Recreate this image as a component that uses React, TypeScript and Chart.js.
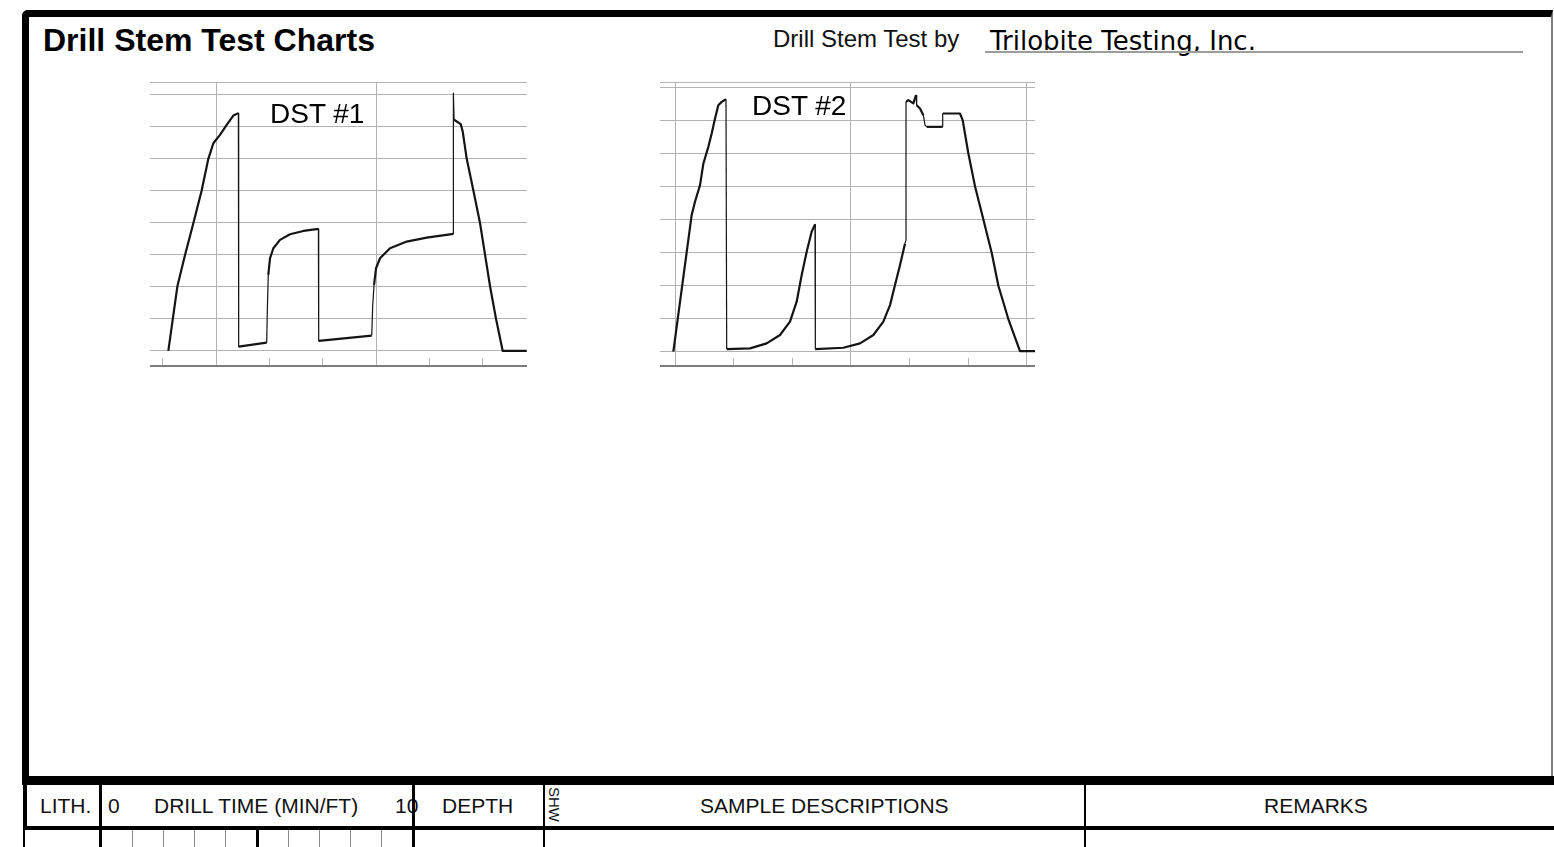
import React, { useEffect, useRef } from 'react';
import { Chart, registerables } from 'chart.js';

Chart.register(...registerables);

// ---- DST #1 (time in hours, pressure in psi) ----
const dst1Hours = [2.106, 2.275, 2.419, 2.575, 2.731, 2.856, 2.95, 3.075, 3.2, 3.325, 3.419, 3.425, 3.95, 3.963, 3.98, 4.013, 4.075, 4.2, 4.388, 4.638, 4.919, 4.925, 5.919, 5.938, 5.963, 6.0, 6.075, 6.263, 6.575, 6.95, 7.45, 7.45, 7.463, 7.588, 7.625, 7.7, 7.825, 7.95, 8.044, 8.138, 8.25, 8.375, 8.825];
const dst1Psi = [0, 503, 750, 997, 1253, 1500, 1622, 1687, 1766, 1838, 1857, 34, 65, 333, 594, 724, 802, 867, 911, 937, 953, 78, 120, 359, 516, 646, 724, 802, 854, 885, 914, 2013, 1805, 1771, 1713, 1500, 1253, 997, 750, 503, 250, 0, 0];
const dst1XTicks = [2, 3, 4, 5, 6, 7, 8];
const dst1XMajor = [3, 6];
const dst1YTicks = [0, 250, 500, 750, 1000, 1250, 1500, 1750, 2000, 2100];

// ---- DST #2 ----
const dst2Hours = [2.972, 3.284, 3.341, 3.427, 3.484, 3.569, 3.626, 3.683, 3.739, 3.796, 3.87, 3.882, 4.28, 4.564, 4.792, 4.962, 5.076, 5.162, 5.247, 5.332, 5.389, 5.395, 5.873, 6.157, 6.385, 6.555, 6.669, 6.754, 6.84, 6.925, 6.942, 6.942, 6.982, 7.067, 7.113, 7.124, 7.181, 7.238, 7.266, 7.295, 7.565, 7.568, 7.863, 7.909, 8.006, 8.119, 8.262, 8.404, 8.518, 8.688, 8.887, 9.143];
const dst2Psi = [0, 1032, 1133, 1259, 1422, 1548, 1649, 1762, 1863, 1888, 1908, 20, 25, 63, 126, 227, 378, 579, 755, 906, 962, 20, 30, 63, 126, 227, 352, 504, 655, 818, 843, 1888, 1901, 1876, 1939, 1863, 1838, 1787, 1712, 1699, 1699, 1800, 1800, 1750, 1498, 1251, 999, 748, 498, 247, 5, 5];
const dst2XTicks = [3, 4, 5, 6, 7, 8, 9];
const dst2XMajor = [3, 6, 9];
const dst2YTicks = [0, 250, 500, 750, 1000, 1250, 1500, 1750, 2000, 2038];

// ---- Form header labels ----
const headerLabels = ['LITH.', '0', 'DRILL TIME (MIN/FT)', '10', 'DEPTH', 'SAMPLE DESCRIPTIONS', 'REMARKS'];

const INK = '#141414';
const GRID = '#b3b3b3';
const AXIS = '#7d7d7d';

type DstProps = {
  hours: number[];
  psi: number[];
  xMin: number;
  xMax: number;
  yMin: number;
  yMax: number;
  xTicks: number[];
  xMajor: number[];
  yTicks: number[];
  left: number;
  top: number;
  width: number;
  height: number;
};

function DstChart(p: DstProps) {
  const ref = useRef<HTMLCanvasElement>(null);
  useEffect(() => {
    const chart = new Chart(ref.current as HTMLCanvasElement, {
      type: 'line',
      data: {
        datasets: [
          {
            data: p.hours.map((h, i) => ({ x: h, y: p.psi[i] })),
            borderColor: INK,
            borderWidth: 2,
            pointRadius: 0,
            tension: 0,
            fill: false,
            borderJoinStyle: 'round',
            segment: {
              borderWidth: (c: any) => (Math.abs(c.p1.parsed.x - c.p0.parsed.x) < 0.03 ? 1.2 : 2.2),
            },
          } as any,
        ],
      },
      options: {
        animation: false,
        responsive: false,
        maintainAspectRatio: false,
        layout: { padding: { top: 4, bottom: 4, left: 0, right: 0 } },
        plugins: { legend: { display: false }, tooltip: { enabled: false }, title: { display: false } },
        scales: {
          x: {
            type: 'linear',
            position: 'bottom',
            bounds: 'data',
            min: p.xMin,
            max: p.xMax,
            weight: 0,
            border: { display: false },
            ticks: { display: false },
            afterBuildTicks: (s: any) => {
              s.ticks = p.xTicks.map((v) => ({ value: v }));
            },
            grid: {
              color: (c: any) => (c.tick && p.xMajor.includes(c.tick.value) ? GRID : 'rgba(0,0,0,0)'),
              tickColor: GRID,
              tickLength: 8,
              lineWidth: 1,
              drawTicks: true,
            },
          },
          x2: {
            type: 'linear',
            position: 'bottom',
            bounds: 'data',
            min: p.xMin,
            max: p.xMax,
            weight: 1,
            ticks: { display: false },
            grid: { display: false, drawTicks: false, tickLength: 0 },
            border: { display: true, color: AXIS, width: 2 },
          },
          y: {
            type: 'linear',
            bounds: 'data',
            min: p.yMin,
            max: p.yMax,
            ticks: { display: false },
            border: { display: false },
            afterBuildTicks: (s: any) => {
              s.ticks = p.yTicks.map((v) => ({ value: v }));
            },
            grid: { color: GRID, lineWidth: 1, drawTicks: false },
          },
        } as any,
      },
    });
    return () => chart.destroy();
  }, []);
  return (
    <canvas
      ref={ref}
      width={p.width}
      height={p.height}
      style={{ position: 'absolute', left: p.left, top: p.top, width: p.width, height: p.height }}
    />
  );
}

const abs = (s: React.CSSProperties): React.CSSProperties => ({ position: 'absolute', ...s });

export default function App() {
  const textBase: React.CSSProperties = {
    position: 'absolute',
    whiteSpace: 'nowrap',
    color: '#111',
  };
  const hdr = (left: number, text: string) => (
    <div key={text + left} style={{ ...textBase, left, top: 795, fontSize: 21, lineHeight: '21px' }}>
      {text}
    </div>
  );
  const blackSeps = [
    [99, 3],
    [412, 3],
    [543, 2],
    [1084, 2],
  ];
  const cellBlack = [
    [99, 3],
    [256, 3],
    [412, 3],
    [543, 2],
    [1084, 2],
  ];
  const cellThin = [132, 163, 194, 225, 288, 319, 350, 381];
  return (
    <div
      style={abs({
        left: 0,
        top: 0,
        width: 1554,
        height: 847,
        overflow: 'hidden',
        background: '#fff',
        fontFamily: '"Liberation Sans", Arial, sans-serif',
      })}
    >
      {/* outer frame */}
      <div
        style={abs({
          left: 22,
          top: 10,
          width: 1531,
          height: 766,
          boxSizing: 'border-box',
          borderTop: '7px solid #000',
          borderLeft: '7px solid #000',
          borderRight: '2px solid #7f7f7f',
          borderTopLeftRadius: 6,
        })}
      />
      {/* titles */}
      <div style={{ ...textBase, left: 43, top: 24, fontSize: 32, lineHeight: '32px', fontWeight: 'bold', color: '#000' }}>
        Drill Stem Test Charts
      </div>
      <div style={{ ...textBase, left: 773, top: 27, fontSize: 24, lineHeight: '24px' }}>Drill Stem Test by</div>
      <div
        style={{
          ...textBase,
          left: 990,
          top: 28,
          fontSize: 26,
          lineHeight: '26px',
          fontFamily: '"DejaVu Sans", sans-serif',
          color: '#000',
        }}
      >
        Trilobite Testing, Inc.
      </div>
      <div style={abs({ left: 985, top: 51, width: 538, height: 2, background: '#9c9c9c' })} />

      {/* charts */}
      <DstChart
        hours={dst1Hours}
        psi={dst1Psi}
        xMin={1.7625}
        xMax={8.83}
        yMin={-55}
        yMax={2100}
        xTicks={dst1XTicks}
        xMajor={dst1XMajor}
        yTicks={dst1YTicks}
        left={150}
        top={78}
        width={377}
        height={292}
      />
      <DstChart
        hours={dst2Hours}
        psi={dst2Psi}
        xMin={2.744}
        xMax={9.143}
        yMin={-47.6}
        yMax={2038}
        xTicks={dst2XTicks}
        xMajor={dst2XMajor}
        yTicks={dst2YTicks}
        left={660}
        top={78}
        width={375}
        height={292}
      />
      <div style={{ ...textBase, left: 270, top: 99.6, fontSize: 28, lineHeight: '28px', color: '#000' }}>DST #1</div>
      <div style={{ ...textBase, left: 752, top: 91.5, fontSize: 28, lineHeight: '28px', color: '#000' }}>DST #2</div>

      {/* bottom table */}
      <div style={abs({ left: 22, top: 776, width: 1532, height: 9, background: '#000' })} />
      {hdr(40, headerLabels[0])}
      {hdr(108, headerLabels[1])}
      {hdr(154, headerLabels[2])}
      {hdr(395, headerLabels[3])}
      {hdr(442, headerLabels[4])}
      {hdr(700, headerLabels[5])}
      {hdr(1264, headerLabels[6])}
      <div
        style={{
          ...textBase,
          left: 546,
          top: 787,
          writingMode: 'vertical-rl',
          fontSize: 15,
          lineHeight: '17px',
        }}
      >
        SHW
      </div>
      <div style={abs({ left: 23, top: 785, width: 4, height: 41, background: '#000' })} />
      {blackSeps.map(([x, w]) => (
        <div key={'h' + x} style={abs({ left: x, top: 785, width: w, height: 41, background: '#000' })} />
      ))}
      <div style={abs({ left: 23, top: 826, width: 1531, height: 4, background: '#000' })} />
      <div style={abs({ left: 23, top: 830, width: 2, height: 17, background: '#000' })} />
      {cellBlack.map(([x, w]) => (
        <div key={'c' + x} style={abs({ left: x, top: 830, width: w, height: 17, background: '#000' })} />
      ))}
      {cellThin.map((x) => (
        <div key={'t' + x} style={abs({ left: x, top: 830, width: 1, height: 17, background: '#8a8a8a' })} />
      ))}
    </div>
  );
}
